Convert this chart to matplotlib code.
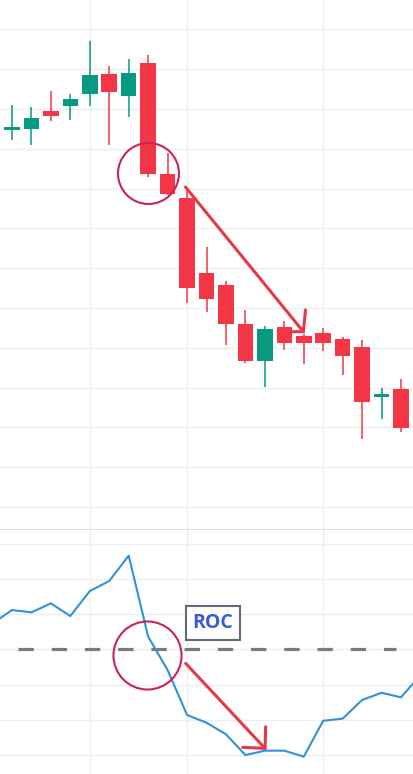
import matplotlib
matplotlib.use("Agg")
import matplotlib.pyplot as plt

# candle data (price units, one grid step = 10)
opens = [194.8, 195.0, 199.6, 200.8, 203.8, 208.9, 203.3, 211.6, 183.7, 177.7, 158.8,
         155.8, 146.0, 136.8, 145.2, 143.0, 143.7, 142.2, 140.2, 127.6, 129.65]
highs = [201.0, 200.4, 204.5, 203.8, 217.1, 210.8, 212.6, 213.6, 188.9, 180.15, 165.25,
         156.8, 149.5, 145.5, 146.7, 143.5, 145.0, 142.8, 142.0, 129.9, 132.2]
lows = [192.2, 190.95, 197.1, 197.2, 200.75, 190.95, 198.1, 183.0, 178.4, 151.25, 149.1,
        140.8, 136.1, 130.2, 139.4, 136.0, 139.3, 133.2, 117.0, 122.0, 118.9]
closes = [195.55, 197.8, 198.2, 202.5, 208.5, 204.3, 209.0, 183.7, 178.6, 155.1, 152.3,
          146.0, 136.8, 144.7, 141.3, 141.3, 141.3, 138.0, 126.45, 128.4, 119.9]

# ROC values, from one bar before the first candle to one after the last
roc_x = list(range(-1, 22))
roc = [1.47, 2.23, 2.10, 2.61, 1.89, 3.31, 3.88, 5.32, 0.72, -1.18, -3.73, -4.17,
       -4.83, -6.01, -5.76, -5.76, -6.10, -4.06, -3.94, -2.88, -2.47, -2.73, -1.47]

time_ticks = [4, 9, 16]

UP = "#089981"
DOWN = "#F23645"
GRID = "#ECEEF1"
MARK = "#C8235A"
ARROW = "#E53945"

fig = plt.figure(figsize=(4.13, 7.74), dpi=100)
H = 774.0
ax = fig.add_axes([0, 245 / H, 1, 529 / H])
ax2 = fig.add_axes([0, 0, 1, 245 / H])

xlim = (-12 / 19.45, (413 - 12) / 19.45)

for a in (ax, ax2):
    a.set_xlim(*xlim)
    a.set_xticks(time_ticks)
    a.tick_params(length=0, labelbottom=False, labelleft=False)
    for s in a.spines.values():
        s.set_visible(False)
    a.grid(True, color=GRID, linewidth=1.0)
    a.set_axisbelow(True)

# price panel
ax.set_ylim(94.47, 94.47 + 529 / 3.98)
ax.set_yticks(range(100, 230, 10))
xs = list(range(len(opens)))
cols = [UP if c >= o else DOWN for o, c in zip(opens, closes)]
ax.vlines(xs, lows, highs, colors=cols, linewidth=1.1, zorder=2)
bottoms = [min(o, c) for o, c in zip(opens, closes)]
heights = [max(abs(c - o), 0.75) for o, c in zip(opens, closes)]
ax.bar(xs, heights, bottom=bottoms, width=0.8, color=cols, linewidth=0, zorder=3)

# circle + arrow on price panel
ax.plot([6.97], [183.84], marker="o", markersize=43.9, mfc="none", mec=MARK,
        mew=1.5, zorder=5)
ax.plot([8.92, 14.98], [180.4, 144.04], color=ARROW, lw=2.2, solid_capstyle="round", zorder=5)
ax.plot([14.38, 14.98, 15.09], [144.04, 144.04, 149.5], color=ARROW, lw=2.2,
        solid_capstyle="round", solid_joinstyle="round", zorder=5)

# ROC panel
ax2.set_ylim(-124.7 / 17.6, 120.3 / 17.6)
ax2.set_yticks(range(-6, 8, 2))
ax2.axhline(120.3 / 17.6 - 0.02, color="#D6D8DC", linewidth=1.2)
ax2.plot(roc_x, roc, color="#2F92DB", linewidth=1.5, zorder=3)
ax2.axhline(0, xmin=17.7 / 413, xmax=396 / 413, color="#787B80", linewidth=2.3,
            dashes=(4.8, 5.6), zorder=2)

ax2.plot([6.93], [-0.32], marker="o", markersize=49, mfc="none", mec=MARK,
         mew=1.5, zorder=5)
ax2.plot([8.93, 13.01], [-0.80, -5.63], color=ARROW, lw=2.2, solid_capstyle="round", zorder=5)
ax2.plot([11.86, 13.01, 13.04], [-5.57, -5.63, -4.40], color=ARROW, lw=2.2,
         solid_capstyle="round", solid_joinstyle="round", zorder=5)

ax2.text(10.33, 1.48, "ROC", ha="center", va="center", fontsize=14, fontweight="bold",
         color="#3B5BD6", family=["Open Sans", "DejaVu Sans"], zorder=6,
         bbox=dict(boxstyle="square,pad=0.35", facecolor="white", edgecolor="#5F6B78",
                   linewidth=1.5))

fig.savefig("out.png", dpi=100)
